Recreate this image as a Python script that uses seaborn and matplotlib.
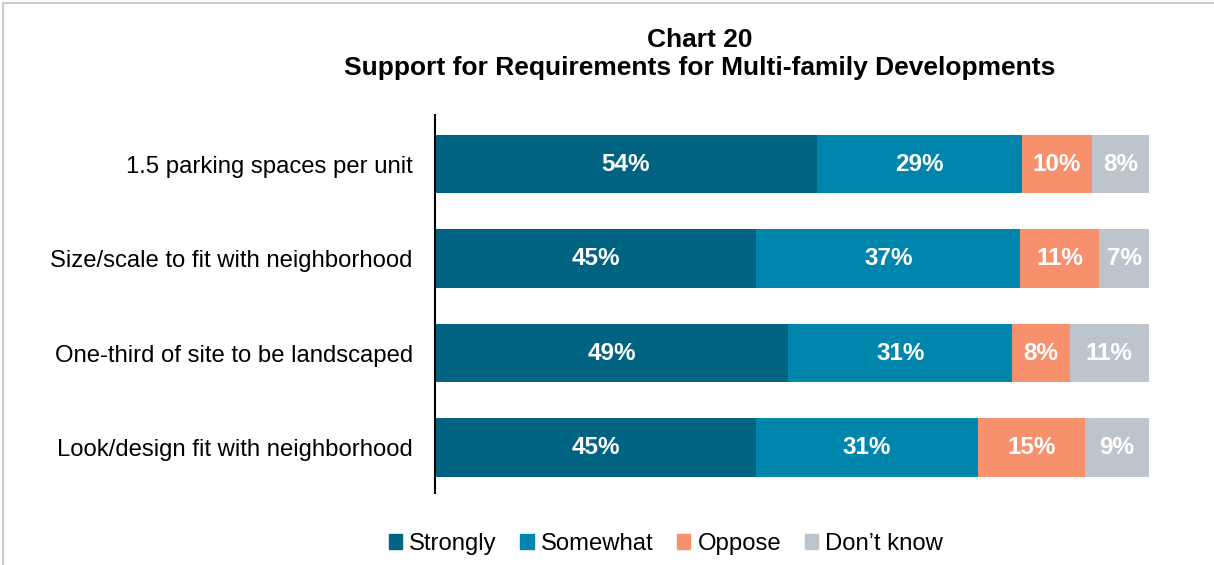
import matplotlib.pyplot as plt
import matplotlib.patches as mpatches
import matplotlib.lines as mlines
import numpy as np
import pandas as pd
import seaborn as sns

categories = [
    "1.5 parking spaces per unit",
    "Size/scale to fit with neighborhood",
    "One-third of site to be landscaped",
    "Look/design fit with neighborhood",
]
responses = ["Strongly", "Somewhat", "Oppose", "Don\u2019t know"]
strongly = [54, 45, 49, 45]
somewhat = [29, 37, 31, 31]
oppose = [10, 11, 8, 15]
dont_know = [8, 7, 11, 9]
colors = ["#006382", "#0085ad", "#f6906d", "#bcc5cb"]

title = "Chart 20\nSupport for Requirements for Multi-family Developments"

sns.set_theme(style="white")
plt.rcParams["font.family"] = ["Liberation Sans", "DejaVu Sans"]
plt.rcParams["text.color"] = "black"

df = pd.DataFrame({"category": categories, "Strongly": strongly, "Somewhat": somewhat,
                   "Oppose": oppose, "Don\u2019t know": dont_know})
# bars are drawn as share of each row's total (rounded labels do not always add to 100)
total = df[responses].sum(axis=1)
share = df[responses].div(total, axis=0) * 100
cum = share.cumsum(axis=1)

fig = plt.figure(figsize=(12.14, 5.65), dpi=100)
ax = fig.add_axes([435 / 1214, 72 / 565, 714 / 1214, 378 / 565])

# classic seaborn stacking: draw cumulative totals from the widest down
for resp, col in reversed(list(zip(responses, colors))):
    sns.barplot(x=cum[resp], y=df["category"], ax=ax, color=col, orient="h",
                width=0.62, linewidth=0, saturation=1)

for i in range(len(categories)):
    left = 0
    for resp in responses:
        w = share.loc[i, resp]
        ax.text(left + w / 2, i, "%d%%" % df.loc[i, resp], ha="center", va="center",
                color="white", fontsize=17.5, fontweight="bold")
        left += w

ax.set_xlim(0, 100)
ax.set_ylim(3.48, -0.52)
ax.set_xlabel("")
ax.set_ylabel("")
ax.set_xticks([])
ax.tick_params(axis="y", length=0, pad=16, labelsize=17.2, colors="black")
sns.despine(ax=ax, top=True, right=True, bottom=True)
ax.spines["left"].set_color("black")
ax.spines["left"].set_linewidth(1.5)

fig.text(700 / 1214, 1 - 54 / 565, title, ha="center", va="center", fontsize=19,
         fontweight="bold", linespacing=1.2, color="black")

handles = [mpatches.Patch(color=c, label=r) for r, c in zip(responses, colors)]
fig.legend(handles=handles, loc="center", bbox_to_anchor=(666 / 1214, 1 - 544 / 565),
           ncol=4, frameon=False, fontsize=17.2, handlelength=0.55, handleheight=0.55,
           handletextpad=0.3, columnspacing=1.0)

# outer frame (top and left edges visible)
fig.add_artist(mlines.Line2D([3 / 1214, 1], [1 - 3 / 565, 1 - 3 / 565], color="#c8cdd1", lw=1.5))
fig.add_artist(mlines.Line2D([3 / 1214, 3 / 1214], [0, 1 - 3 / 565], color="#c8cdd1", lw=1.5))

fig.savefig("out.png", dpi=100)
